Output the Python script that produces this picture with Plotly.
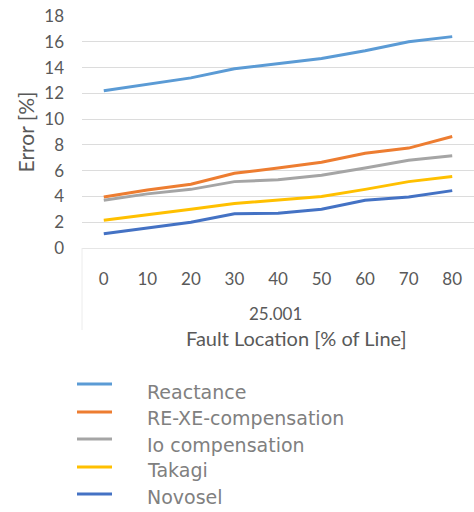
import plotly.graph_objects as go

# Fault location along the line (% of line length)
locations = ["0", "10", "20", "30", "40", "50", "60", "70", "80"]

# Location error of each fault locator algorithm (%)
reactance = [12.2, 12.7, 13.2, 13.9, 14.3, 14.7, 15.3, 16.0, 16.4]
re_xe_comp = [3.95, 4.5, 4.95, 5.8, 6.2, 6.65, 7.35, 7.75, 8.65]
io_comp = [3.7, 4.2, 4.55, 5.15, 5.3, 5.65, 6.2, 6.8, 7.15]
takagi = [2.15, 2.55, 3.0, 3.45, 3.7, 4.0, 4.55, 5.15, 5.55]
novosel = [1.1, 1.55, 2.0, 2.65, 2.7, 3.0, 3.7, 3.95, 4.45]

series_names = ["Reactance", "RE-XE-compensation", "Io compensation", "Takagi", "Novosel"]
series_values = [reactance, re_xe_comp, io_comp, takagi, novosel]
series_colors = ["#5B9BD5", "#ED7D31", "#A5A5A5", "#FFC000", "#4472C4"]

y_ticks = [0, 2, 4, 6, 8, 10, 12, 14, 16, 18]

W, H = 474, 512
L, R, T, B = 82, 0, 16, 264
plot_h = H - T - B
plot_w = W - L - R


def py(pix):
    """Page pixel row -> paper y coordinate."""
    return (H - B - pix) / plot_h


def px(pix):
    """Page pixel column -> paper x coordinate."""
    return (pix - L) / plot_w


font_main = "Lato, 'Open Sans', sans-serif"
text_col = "#595959"

fig = go.Figure()
for name, vals, col in zip(series_names, series_values, series_colors):
    fig.add_trace(go.Scatter(
        x=locations, y=vals, name=name, mode="lines",
        line=dict(color=col, width=3), showlegend=False,
    ))

fig.update_layout(
    width=W, height=H,
    margin=dict(l=L, r=R, t=T, b=B, pad=0),
    paper_bgcolor="white", plot_bgcolor="white",
    font=dict(family=font_main, size=17, color=text_col),
    xaxis=dict(
        type="category", range=[-0.5, 8.5], showgrid=False, zeroline=False,
        showline=True, linecolor="#e6e6e6", linewidth=1,
        tickfont=dict(size=17, color=text_col), ticks="",
        ticklabelstandoff=16,
    ),
    yaxis=dict(
        range=[0, 18], tickvals=y_ticks, showgrid=True,
        gridcolor="#dcdcdc", gridwidth=1, zeroline=False,
        tickfont=dict(size=17, color=text_col), ticks="",
        ticklabelstandoff=17,
        title=dict(text="Error [%]", font=dict(size=21, color=text_col), standoff=3),
    ),
)

# faint frame around the category label band
fig.add_shape(type="line", xref="paper", yref="paper",
              x0=0, x1=0, y0=0, y1=py(330), line=dict(color="#ececec", width=1))

fig.add_annotation(text="25.001", xref="paper", yref="paper",
                   x=px(275), y=py(313), showarrow=False,
                   font=dict(size=17, color=text_col), xanchor="center", yanchor="middle")
fig.add_annotation(text="Fault Location [% of Line]", xref="paper", yref="paper",
                   x=px(296), y=py(338), showarrow=False,
                   font=dict(size=20, color=text_col), xanchor="center", yanchor="middle")

# legend drawn below the axis title
legend_lines = [384, 412, 439, 467, 494]
legend_text = [392, 418, 445, 470, 497]
for name, col, ly, ty in zip(series_names, series_colors, legend_lines, legend_text):
    fig.add_shape(type="line", xref="paper", yref="paper",
                  x0=px(77), x1=px(112), y0=py(ly), y1=py(ly),
                  line=dict(color=col, width=3))
    fig.add_annotation(text=name, xref="paper", yref="paper",
                       x=px(145), y=py(ty), showarrow=False,
                       font=dict(family="'DejaVu Sans', sans-serif", size=19, color="#808080"),
                       xanchor="left", yanchor="middle")

fig.write_html("out.html")
